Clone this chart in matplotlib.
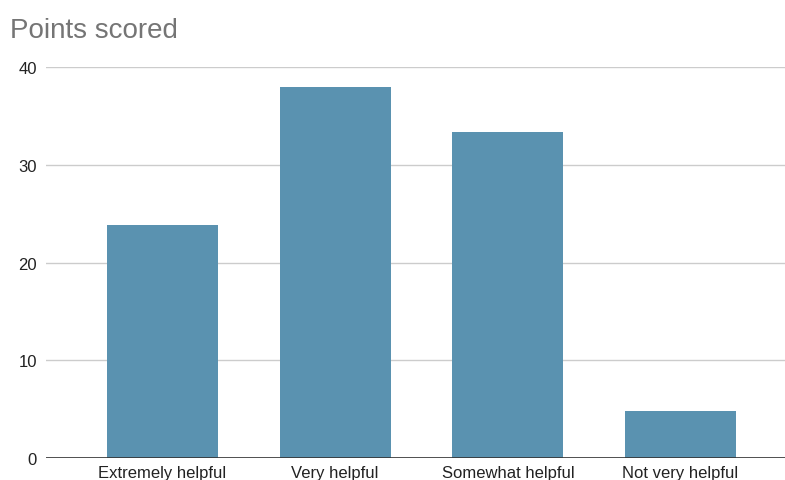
import matplotlib.pyplot as plt

categories = ['Extremely helpful', 'Very helpful', 'Somewhat helpful', 'Not very helpful']
points = [23.8, 38.0, 33.3, 4.8]

plt.rcParams['font.family'] = ['Liberation Sans', 'DejaVu Sans']

fig = plt.figure(figsize=(7.85, 4.81), dpi=100)
ax = fig.add_axes([46 / 785, 22 / 481, 751 / 785, 391 / 481])

x = range(len(categories))
ax.bar(x, points, width=0.643, color='#5a92b0', zorder=3)

ax.set_xlim(-0.675, 3.675)
ax.set_ylim(0, 40)
ax.set_yticks([0, 10, 20, 30, 40])
ax.set_xticks(list(x))
ax.set_xticklabels(categories)
ax.grid(axis='y', color='#cccccc', linewidth=1, zorder=0)
ax.axhline(0, color='#333333', linewidth=1.2, zorder=4)
for s in ax.spines.values():
    s.set_visible(False)
ax.tick_params(axis='both', length=0, labelsize=12, colors='#222222')
ax.tick_params(axis='y', pad=6.5)
ax.tick_params(axis='x', pad=5)

fig.text(10 / 785, 1 - 38 / 481, 'Points scored', fontsize=20, color='#757575',
         ha='left', va='baseline')

fig.savefig('out.png', dpi=100)
